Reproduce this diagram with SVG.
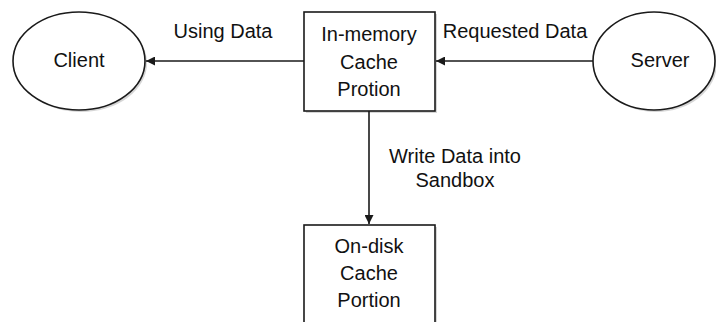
<svg xmlns="http://www.w3.org/2000/svg" width="716" height="322" viewBox="0 0 716 322">
<style>
.shape{fill:#fff;stroke:#1a1a1a;stroke-width:1.6}
.shadow{fill:#bbb;stroke:none;opacity:0.6}
.t{font-family:"Liberation Sans",Arial,sans-serif;font-size:20px;fill:#111;text-anchor:middle}
.edge{stroke:#1a1a1a;stroke-width:1.6;fill:none}
</style>
<defs>
<marker id="arr" viewBox="0 0 10 10" refX="10" refY="5" markerWidth="9" markerHeight="9" markerUnits="userSpaceOnUse" orient="auto">
<path d="M0,0 L10,5 L0,10 z" fill="#1a1a1a"/>
</marker>
</defs>
<rect width="716" height="322" fill="#fff"/>
<g id="client">
<ellipse class="shadow" cx="81" cy="63" rx="66" ry="49"/>
<ellipse class="shape" cx="79" cy="61" rx="66" ry="49"/>
<text class="t" x="79" y="67">Client</text>
</g>
<g id="server">
<ellipse class="shadow" cx="656" cy="63" rx="61" ry="49"/>
<ellipse class="shape" cx="654" cy="61" rx="61" ry="49"/>
<text class="t" x="660" y="67">Server</text>
</g>
<g id="inmemory">
<rect class="shadow" x="306" y="14" width="131" height="99"/>
<rect class="shape" x="304" y="12" width="131" height="99"/>
<text class="t" x="369" y="41">In-memory</text>
<text class="t" x="369" y="69">Cache</text>
<text class="t" x="369" y="96">Protion</text>
</g>
<g id="ondisk">
<rect class="shadow" x="306" y="227" width="131" height="110"/>
<rect class="shape" x="304" y="225" width="131" height="110"/>
<text class="t" x="369" y="253">On-disk</text>
<text class="t" x="369" y="280">Cache</text>
<text class="t" x="369" y="307">Portion</text>
</g>
<g id="connectors">
<line class="edge" x1="304" y1="61" x2="146" y2="61" marker-end="url(#arr)"/>
<line class="edge" x1="593" y1="61" x2="436" y2="61" marker-end="url(#arr)"/>
<line class="edge" x1="369" y1="111" x2="369" y2="224" marker-end="url(#arr)"/>
<text class="t" x="223" y="38">Using Data</text>
<text class="t" x="515" y="38">Requested Data</text>
<text class="t" x="455" y="163">Write Data into</text>
<text class="t" x="455" y="187">Sandbox</text>
</g>
</svg>
